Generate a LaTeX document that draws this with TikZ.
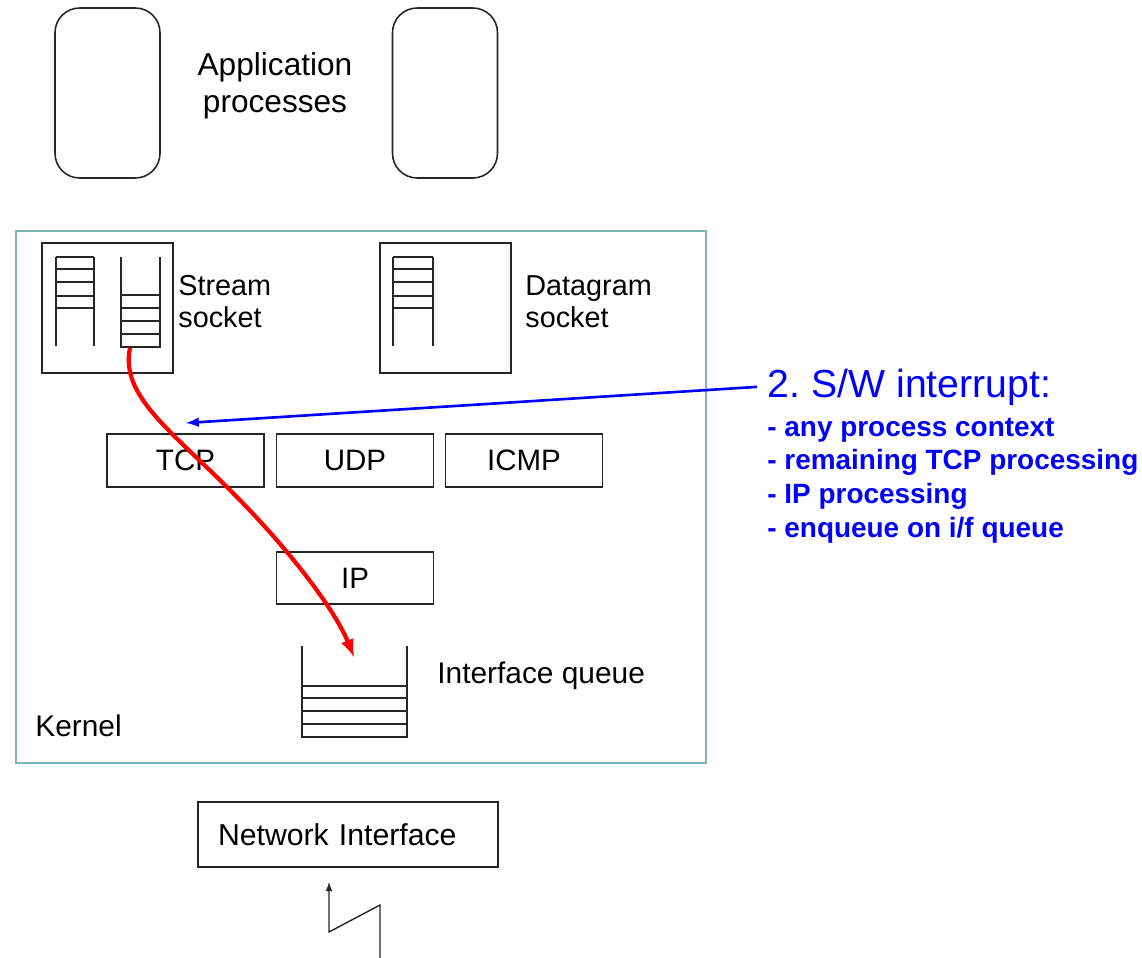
\documentclass[tikz,border=0pt]{standalone}
\usepackage{fontspec}
\setmainfont{Liberation Sans}
\usetikzlibrary{calc,arrows,positioning}
\frenchspacing

\definecolor{kernelline}{RGB}{125,180,185}
\definecolor{swblue}{RGB}{0,0,255}
\definecolor{pathred}{RGB}{255,0,0}

\begin{document}
\begin{tikzpicture}[x=0.02cm,y=-0.02cm,
    box/.style={draw=black!85,line width=0.9pt,inner sep=0pt},
    proc/.style={box,rounded corners=14pt,minimum width=2.1cm,minimum height=3.4cm},
    sockbox/.style={box,minimum width=2.62cm,minimum height=2.6cm},
    protobox/.style={box,minimum width=3.14cm,minimum height=1.06cm,font=\fontsize{16.8}{18}\selectfont},
    ladder/.style={black!85,line width=0.9pt},
    lbl/.style={font=\fontsize{17}{18.2}\selectfont,inner sep=0pt}]
\useasboundingbox (0,0) rectangle (1142,957);

% application processes
\node[proc] (app1) at (107.5,93) {};
\node[proc] (app2) at (445,93) {};
\node[lbl,align=center,anchor=base,font=\fontsize{18}{21}\selectfont] (apptxt) at (275,112) {Application\\processes};

% kernel
\draw[kernelline,line width=1pt] (16,231) rectangle (706,763);
\node[lbl,anchor=base west] (kern) at (35,736) {Kernel};

% sockets
\node[sockbox] (stream) at (107.5,308) {};
\node[sockbox] (dgram) at (445.5,308) {};
\foreach \y in {257,269,282,296,308} \draw[ladder] (56,\y) -- (94,\y);
\draw[ladder] (56,257) -- (56,346);
\draw[ladder] (94,257) -- (94,346);
\draw[ladder] (121,257) -- (121,347) -- (160,347) -- (160,257);
\foreach \y in {295,308,321,334} \draw[ladder] (121,\y) -- (160,\y);
\foreach \y in {257,269,282,296,308} \draw[ladder] (393,\y) -- (433,\y);
\draw[ladder] (393,257) -- (393,346);
\draw[ladder] (433,257) -- (433,346);
\node[lbl,align=left,anchor=base west,font=\fontsize{16.4}{18.2}\selectfont] (streamtxt) at (178,327) {Stream\\socket};
\node[lbl,align=left,anchor=base west,font=\fontsize{16.4}{18.2}\selectfont] (dgramtxt) at (525,327) {Datagram\\socket};

% protocols
\node[protobox] (tcp) at (185.5,460.5) {TCP};
\node[protobox] (udp) at (355,460.5) {UDP};
\node[protobox] (icmp) at (524,460.5) {ICMP};
\node[protobox,minimum height=1.04cm] (ip) at (355,578) {IP};

% interface queue
\draw[ladder] (302,646) -- (302,737) -- (407,737) -- (407,646);
\foreach \y in {686,698,711,724} \draw[ladder] (302,\y) -- (407,\y);
\node[lbl,anchor=base west] (ifqtxt) at (437,683) {Interface queue};

% network interface
\node[box,minimum width=6cm,minimum height=1.3cm,text width=5.2cm,align=left,font=\fontsize{17.2}{18}\selectfont] (nic) at (348,834.5) {Network Interface};
\coordinate (bolt) at (329,882);
\draw[black!85,line width=0.8pt,-latex] (380,960) -- (380,905) -- (329,932) -- (bolt);

% software interrupt
\node[lbl,anchor=base west,text=swblue,font=\fontsize{22.3}{26}\selectfont,inner sep=6pt] (irq) at (757,397) {2. S/W interrupt:};
\node[lbl,anchor=base west,text=swblue,align=left,font=\fontsize{15.9}{19.1}\selectfont\bfseries] (irqlist) at (767,537)
  {- any process context\\- remaining TCP processing\\- IP processing\\- enqueue on i/f queue};
\coordinate (tcpin) at (186,423);
\draw[swblue,line width=1.5pt,-latex] (irq.west) -- (tcpin);

% output path
\coordinate (sq) at (130,348);
\coordinate (ifq) at (354,657);
\draw[pathred,line width=2.4pt,-latex] (sq) .. controls (120,395) and (170,430) .. (230,490)
  .. controls (290,550) and (335,610) .. (ifq);
\end{tikzpicture}
\end{document}
